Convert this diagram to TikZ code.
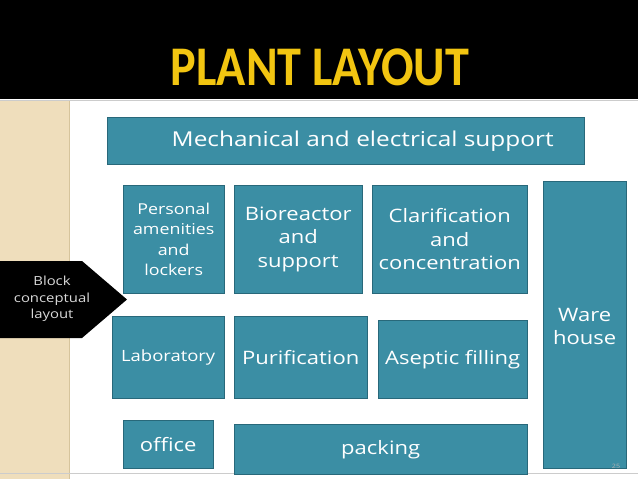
\documentclass[tikz,border=0pt]{standalone}
\usepackage{fontspec}
\setmainfont{Open Sans}[Ligatures=NoCommon, FakeStretch=1.19]
\newfontfamily\titlefont{Carlito}[FakeStretch=0.86]
\definecolor{tealbox}{RGB}{59,142,164}
\definecolor{tealedge}{RGB}{40,104,122}
\definecolor{beige}{RGB}{239,222,188}
\definecolor{beigeedge}{RGB}{214,196,156}
\definecolor{titleyellow}{RGB}{242,197,17}
\tikzset{
  area/.style={draw=tealedge, fill=tealbox, text=white, inner sep=0pt,
    align=center, anchor=north west},
  bigtext/.style={font=\fontsize{18.5}{23.5}\selectfont},
  smalltext/.style={font=\fontsize{15}{20.5}\selectfont},
}
\begin{document}
\begin{tikzpicture}[x=1pt,y=-1pt]
    \useasboundingbox (0,0) rectangle (638,479);
    \fill[white] (0,0) rectangle (638,479);
    % title band
    \fill[black] (0,0) rectangle (638,99);
    \draw[gray!40] (0,100) -- (638,100);
    \node[text=titleyellow, font=\titlefont\bfseries\fontsize{56}{60}\selectfont] (title) at (320,67) {PLANT LAYOUT};
    % side stripe
    \fill[beige] (0,101) rectangle (69,479);
    \draw[beigeedge, line width=1.5pt] (69.5,101) -- (69.5,479);
    \draw[gray!40] (0,473) -- (638,473);
    % blocks
    \node[area, minimum width=477, minimum height=47, font=\fontsize{20.5}{24}\selectfont] (mech) at (107,117) {\hspace*{34pt}Mechanical and electrical support};
    \node[area, minimum width=101, minimum height=108, smalltext] (personal) at (123,185) {Personal\\amenities\\and\\lockers};
    \node[area, minimum width=128, minimum height=108, bigtext] (bio) at (234,185) {Bioreactor\\and\\support};
    \node[area, minimum width=155, minimum height=108, bigtext] (clar) at (372,185) {Clarification\\and\\concentration};
    \node[area, minimum width=83, minimum height=287, bigtext] (ware) at (543,181) {\mbox{}\\[-7pt]Ware\\house};
    \node[area, minimum width=112, minimum height=82, font=\fontsize{15.5}{20}\selectfont] (lab) at (112,316) {Laboratory};
    \node[area, minimum width=133, minimum height=82, bigtext] (purif) at (234,316) {Purification};
    \node[area, minimum width=149, minimum height=78, bigtext] (aseptic) at (378,320) {Aseptic filling};
    \node[area, minimum width=90, minimum height=48, bigtext] (office) at (123,420) {office};
    \node[area, minimum width=293, minimum height=50, bigtext] (packing) at (234,424) {packing};
    % block arrow
    \fill[black] (0,261) -- (82,261) -- (127,299.5) -- (82,338) -- (0,338) -- cycle;
    \node[text=white!85!black, align=center, font=\fontsize{12.5}{16.5}\selectfont] (block) at (52,299) {Block\\conceptual\\layout};
    \node[text=gray!60, font=\fontsize{6}{7}\selectfont] (page) at (616,466) {25};
  \end{tikzpicture}
\end{document}
